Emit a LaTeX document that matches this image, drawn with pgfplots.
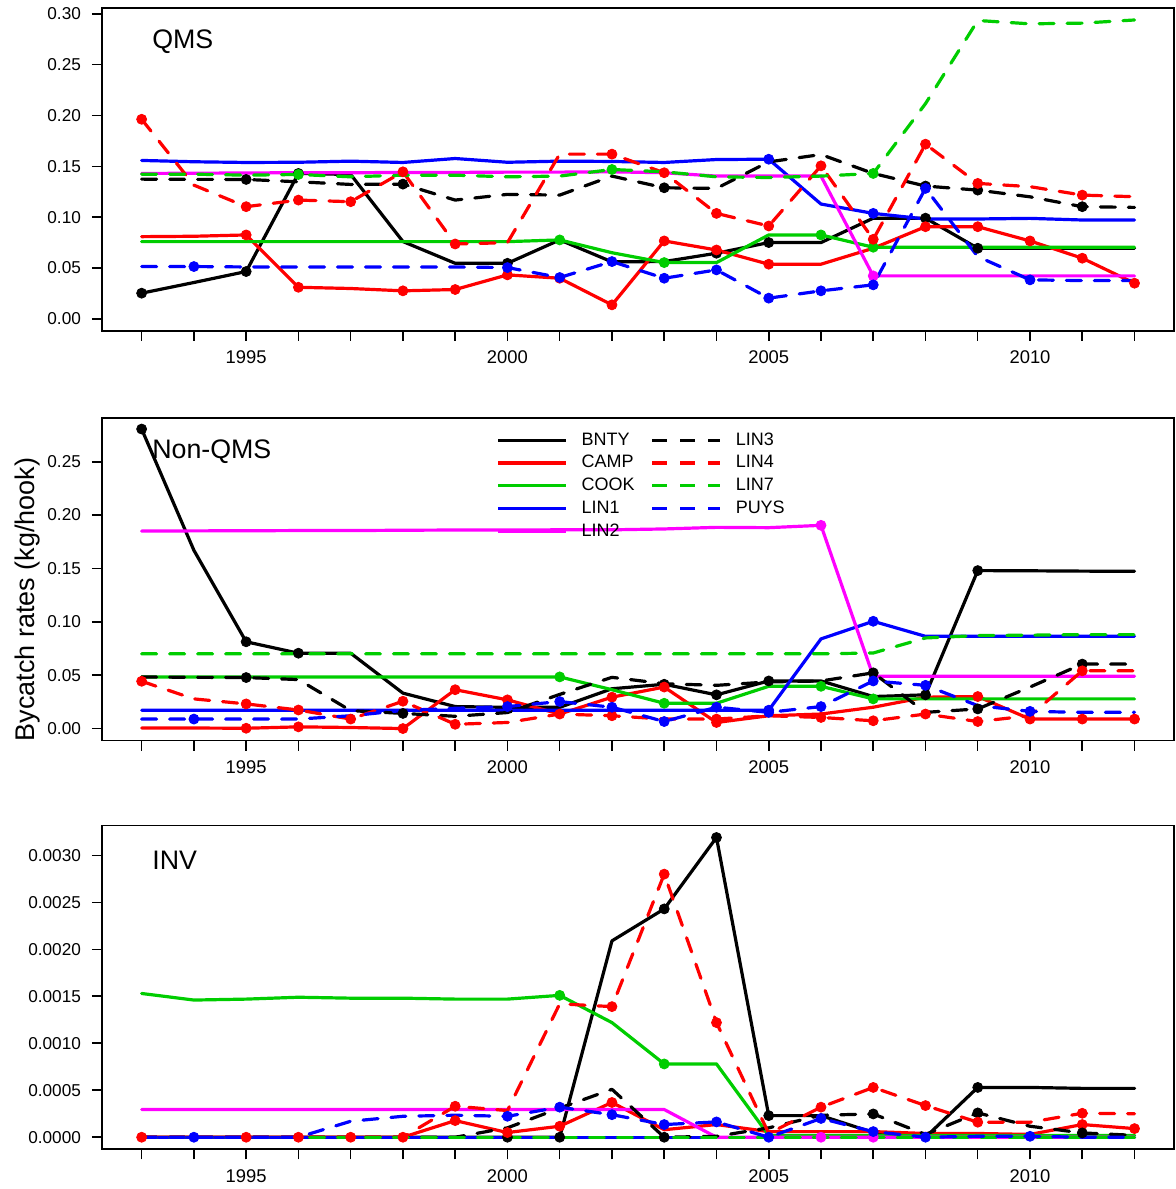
\documentclass[border=0pt]{standalone}
\usepackage{pgfplots}
\pgfplotsset{compat=1.18}
\usepackage{pgfplotstable}
\usepackage{fontspec}
\setmainfont{Liberation Sans}

\definecolor{cred}{RGB}{255,0,0}
\definecolor{cgreen}{RGB}{0,205,0}
\definecolor{cblue}{RGB}{0,0,255}
\definecolor{cmag}{RGB}{255,0,255}

% bycatch rates by stock, one table per panel
\pgfplotstableread{
year BNTY CAMP COOK LIN1 LIN2 LIN3 LIN4 LIN7 PUYS
1993 .0252 .0808 .0759 .1558 .1430 .1374 .1963 .1423 .0514
1994 .0357 .0812 .0759 .1545 .1432 .1372 .1315 .1423 .0514
1995 .0465 .0825 .0759 .1538 .1435 .1371 .1103 .1413 .0510
1996 .1430 .0310 .0759 .1540 .1437 .1348 .1168 .1420 .0510
1997 .1420 .0298 .0759 .1551 .1437 .1322 .1152 .1397 .0510
1998 .0760 .0275 .0759 .1538 .1440 .1325 .1446 .1413 .0510
1999 .0546 .0288 .0759 .1577 .1440 .1168 .0736 .1413 .0510
2000 .0546 .0432 .0759 .1540 .1443 .1224 .0749 .1397 .0504
2001 .0776 .0399 .0776 .1551 .1443 .1217 .1620 .1404 .0406
2002 .0560 .0137 .0650 .1548 .1446 .1404 .1620 .1469 .0563
2003 .0563 .0766 .0553 .1538 .1437 .1289 .1437 .1446 .0399
2004 .0645 .0677 .0553 .1567 .1404 .1283 .1037 .1397 .0481
2005 .0750 .0537 .0825 .1570 .1404 .1544 .0913 .1390 .0203
2006 .0750 .0537 .0825 .1129 .1404 .1616 .1505 .1404 .0275
2007 .0990 .0694 .0704 .1037 .0422 .1430 .0782 .1430 .0334
2008 .0990 .0906 .0704 .0982 .0422 .1306 .1718 .2117 .1283
2009 .0694 .0906 .0704 .0982 .0422 .1266 .1332 .2935 .0612
2010 .0694 .0766 .0704 .0988 .0422 .1200 .1300 .2902 .0383
2011 .0694 .0596 .0704 .0972 .0422 .1103 .1217 .2909 .0376
2012 .0694 .0350 .0704 .0972 .0422 .1096 .1201 .2940 .0376
}\qms

\pgfplotstableread{
year BNTY CAMP COOK LIN1 LIN2 LIN3 LIN4 LIN7 PUYS
1993 .2806 .0005 .0484 .0172 .1850 .0484 .0443 .0700 .0089
1994 .1670 .0005 .0484 .0172 .1852 .0480 .0278 .0700 .0089
1995 .0813 .0003 .0484 .0172 .1853 .0478 .0231 .0700 .0089
1996 .0706 .0016 .0484 .0172 .1855 .0459 .0174 .0700 .0089
1997 .0706 .0010 .0484 .0172 .1855 .0168 .0089 .0700 .0120
1998 .0332 .0000 .0484 .0172 .1858 .0142 .0256 .0700 .0170
1999 .0206 .0364 .0484 .0172 .1860 .0115 .0040 .0700 .0190
2000 .0199 .0269 .0484 .0172 .1860 .0150 .0057 .0700 .0206
2001 .0199 .0136 .0484 .0172 .1862 .0320 .0136 .0700 .0253
2002 .0373 .0294 .0364 .0172 .1862 .0480 .0120 .0700 .0200
2003 .0415 .0389 .0237 .0172 .1870 .0420 .0089 .0700 .0066
2004 .0316 .0057 .0237 .0172 .1885 .0405 .0089 .0700 .0200
2005 .0446 .0120 .0396 .0172 .1882 .0437 .0120 .0700 .0152
2006 .0446 .0136 .0396 .0840 .1904 .0446 .0104 .0700 .0206
2007 .0300 .0200 .0278 .1005 .0490 .0522 .0073 .0708 .0446
2008 .0316 .0294 .0278 .0864 .0490 .0152 .0136 .0849 .0405
2009 .1480 .0300 .0278 .0864 .0490 .0184 .0066 .0871 .0215
2010 .1478 .0089 .0278 .0864 .0490 .0389 .0120 .0875 .0161
2011 .1475 .0089 .0278 .0864 .0490 .0604 .0541 .0880 .0152
2012 .1473 .0089 .0278 .0864 .0490 .0604 .0541 .0880 .0152
}\nonqms

\pgfplotstableread{
year BNTY CAMP COOK LIN1 LIN2 LIN3 LIN4 LIN7 PUYS
1993 0 0 .00153 0 .000295 0 0 0 0
1994 0 0 .00146 0 .000295 0 0 0 0
1995 0 0 .00147 0 .000295 0 0 0 0
1996 0 0 .00149 0 .000295 0 0 0 0
1997 0 0 .00148 0 .000295 0 0 0 .00017
1998 0 0 .00148 0 .000295 0 0 0 .000223
1999 0 .000177 .00147 0 .000295 0 .00033 0 .000234
2000 0 .00005 .00147 0 .000295 .0001 .000284 0 .000223
2001 0 .000117 .00151 0 .000295 .00031 .00142 0 .00032
2002 .00209 .00037 .00122 0 .000295 .00051 .00139 0 .00024
2003 .00243 .00008 .00078 0 .000295 0 .0028 0 .000135
2004 .00319 .000135 .00078 0 0 .00001 .00122 0 .000163
2005 .00023 .00006 .00002 0 0 .0001 .00004 0 0
2006 .00023 .00006 .00002 0 0 .000234 .00032 0 .0002
2007 .00005 .00006 .00002 0 0 .000248 .00053 0 .00006
2008 0 .00004 .00002 0 0 .00003 .000337 0 0
2009 .00053 .00004 .00002 0 0 .000259 .00016 0 .00001
2010 .00053 .00003 .00002 0 0 .000117 .00016 0 .00001
2011 .00052 .000135 .00002 0 0 .000046 .000255 0 0
2012 .00052 .000092 .00002 0 0 .00002 .00025 0 0
}\inv

\tikzset{
  dsh/.style={dash pattern=on 7.5pt off 6.5pt},
  bnty/.style={black}, camp/.style={cred}, cook/.style={cgreen},
  lin1/.style={cblue}, lin2/.style={cmag},
  lin3/.style={black, dsh}, lin4/.style={cred, dsh},
  lin7/.style={cgreen, dsh}, puys/.style={cblue, dsh},
  lab/.style={anchor=west, inner sep=0pt, font=\fontsize{13.4}{16}\selectfont},
}
\pgfplotsset{
  panel/.style={
    scale only axis, width=536.5pt,
    xmin=1992.24, xmax=2012.76,
    xtick={1995,2000,2005,2010}, xticklabels={1995,2000,2005,2010},
    minor xtick={1993,...,2012},
    tick pos=left, tick align=outside,
    major tick length=5pt, minor tick length=5pt,
    every tick/.style={black, line width=0.8pt},
    every minor tick/.style={black, line width=0.8pt},
    axis line style={line width=0.9pt},
    xticklabel style={font=\fontsize{9.2}{11}\selectfont, yshift=-1.5pt},
    yticklabel style={font=\fontsize{8.6}{10}\selectfont, xshift=-2pt},
    scaled y ticks=false,
    clip=false,
  },
  prec/.style={yticklabel style={/pgf/number format/.cd, fixed, fixed zerofill, precision=#1, assume math mode=true}},
  s/.style={line width=1.6pt, no marks, line cap=round, line join=round, forget plot},
}
\newcommand\mk[2]{\addplot[#1, only marks, mark=*, solid, mark size=2.5pt, forget plot] coordinates {#2};}
\newcommand\lines[1]{%
  \addplot[s,bnty] table[x=year,y=BNTY]{#1};
  \addplot[s,camp] table[x=year,y=CAMP]{#1};
  \addplot[s,cook] table[x=year,y=COOK]{#1};
  \addplot[s,lin1] table[x=year,y=LIN1]{#1};
  \addplot[s,lin2] table[x=year,y=LIN2]{#1};
  \addplot[s,lin3] table[x=year,y=LIN3]{#1};
  \addplot[s,lin4] table[x=year,y=LIN4]{#1};
  \addplot[s,lin7] table[x=year,y=LIN7]{#1};
  \addplot[s,puys] table[x=year,y=PUYS]{#1};
}

\begin{document}
\begin{tikzpicture}
\path (0,0) rectangle (588pt,594.5pt);

% QMS
\begin{axis}[panel, prec=2, at={(51pt,429pt)}, anchor=south west, height=161.5pt,
  ymin=-0.0118, ymax=0.3058, ytick={0,0.05,0.10,0.15,0.20,0.25,0.30}]
\lines{\qms}
\mk{bnty}{(1993,.0252)(1995,.0465)(1996,.1430)(2000,.0546)(2004,.0645)(2005,.0750)(2008,.0990)(2009,.0694)}
\mk{camp}{(1995,.0825)(1996,.0310)(1998,.0275)(1999,.0288)(2000,.0432)(2001,.0399)(2002,.0137)(2003,.0766)(2004,.0677)(2005,.0537)(2008,.0906)(2009,.0906)(2010,.0766)(2011,.0596)(2012,.0350)}
\mk{cook}{(2001,.0776)(2003,.0553)(2006,.0825)(2007,.0704)}
\mk{lin1}{(2005,.1570)(2007,.1037)}
\mk{lin2}{(2007,.0422)}
\mk{lin3}{(1995,.1371)(1998,.1325)(2003,.1289)(2008,.1306)(2009,.1266)(2011,.1103)}
\mk{lin4}{(1993,.1963)(1995,.1103)(1996,.1168)(1997,.1152)(1998,.1446)(1999,.0736)(2002,.1620)(2003,.1437)(2004,.1037)(2005,.0913)(2006,.1505)(2007,.0782)(2008,.1718)(2009,.1332)(2011,.1217)}
\mk{lin7}{(1996,.1420)(2002,.1469)(2007,.1430)}
\mk{puys}{(1994,.0514)(2000,.0504)(2001,.0406)(2002,.0563)(2003,.0399)(2004,.0481)(2005,.0203)(2006,.0275)(2007,.0334)(2008,.1283)(2010,.0383)}
\node[lab] at (rel axis cs:0.0466,0.895) {QMS};
\end{axis}

% Non-QMS
\begin{axis}[panel, prec=2, at={(51pt,224pt)}, anchor=south west, height=161.5pt,
  ymin=-0.0112, ymax=0.2912, ytick={0,0.05,0.10,0.15,0.20,0.25},
  legend columns=2, legend cell align=left,
  legend image code/.code={\draw[#1] (0pt,0pt) -- (34pt,0pt);},
  legend style={draw=none, fill=none, at={(rel axis cs:0.362,0.972)}, anchor=north west,
    font=\fontsize{9}{10}\selectfont, row sep=2.4pt,
    nodes={inner ysep=0.5pt, text height=6.5pt, text depth=1.5pt},
    /tikz/every odd column/.append style={column sep=5pt},
    /tikz/every even column/.append style={column sep=6pt}}]
\addlegendimage{bnty,line width=1.6pt}\addlegendentry{BNTY}
\addlegendimage{lin3,line width=1.6pt}\addlegendentry{LIN3}
\addlegendimage{camp,line width=1.6pt}\addlegendentry{CAMP}
\addlegendimage{lin4,line width=1.6pt}\addlegendentry{LIN4}
\addlegendimage{cook,line width=1.6pt}\addlegendentry{COOK}
\addlegendimage{lin7,line width=1.6pt}\addlegendentry{LIN7}
\addlegendimage{lin1,line width=1.6pt}\addlegendentry{LIN1}
\addlegendimage{puys,line width=1.6pt}\addlegendentry{PUYS}
\addlegendimage{lin2,line width=1.6pt}\addlegendentry{LIN2}
\lines{\nonqms}
\mk{bnty}{(1993,.2806)(1995,.0813)(1996,.0706)(2003,.0415)(2004,.0316)(2005,.0446)(2008,.0316)(2009,.1480)}
\mk{camp}{(1995,.0003)(1996,.0016)(1998,.0000)(1999,.0364)(2000,.0269)(2002,.0294)(2003,.0389)(2004,.0057)(2009,.0300)(2010,.0089)(2011,.0089)(2012,.0089)}
\mk{cook}{(2001,.0484)(2003,.0237)(2006,.0396)(2007,.0278)}
\mk{lin1}{(2005,.0172)(2007,.1005)}
\mk{lin2}{(2006,.1904)}
\mk{lin3}{(1995,.0478)(1998,.0142)(2007,.0522)(2009,.0184)(2011,.0604)}
\mk{lin4}{(1993,.0443)(1995,.0231)(1996,.0174)(1997,.0089)(1998,.0256)(1999,.0040)(2001,.0136)(2002,.0120)(2004,.0089)(2006,.0104)(2007,.0073)(2008,.0136)(2009,.0066)(2011,.0541)}
\mk{puys}{(1994,.0089)(2000,.0206)(2001,.0253)(2002,.0200)(2003,.0066)(2004,.0200)(2005,.0152)(2006,.0206)(2007,.0446)(2008,.0405)(2010,.0161)}
\node[lab] at (rel axis cs:0.0466,0.895) {Non-QMS};
\node[rotate=90, font=\fontsize{13.5}{16}\selectfont] at (rel axis cs:-0.069,0.4365) {Bycatch rates (kg/hook)};
\end{axis}

% INV
\begin{axis}[panel, prec=4, at={(51pt,19.5pt)}, anchor=south west, height=162pt,
  ymin=-0.000128, ymax=0.003318, ytick={0,0.0005,0.0010,0.0015,0.0020,0.0025,0.0030}]
\lines{\inv}
\mk{bnty}{(2000,0)(2001,0)(2003,.00243)(2004,.00319)(2005,.00023)(2009,.00053)}
\mk{camp}{(1999,.000177)(2000,.00005)(2001,.000117)(2002,.00037)(2011,.000135)(2012,.000092)}
\mk{cook}{(2001,.00151)(2003,.00078)}
\mk{lin2}{(2006,0)(2007,0)}
\mk{lin3}{(2003,0)(2007,.000248)(2009,.000259)(2011,.000046)}
\mk{lin4}{(1993,0)(1995,0)(1996,0)(1997,0)(1998,0)(1999,.00033)(2002,.00139)(2003,.0028)(2004,.00122)(2006,.00032)(2007,.00053)(2008,.000337)(2009,.00016)(2011,.000255)}
\mk{puys}{(1994,0)(2000,.000223)(2001,.00032)(2002,.00024)(2003,.000135)(2004,.000163)(2005,0)(2006,.0002)(2007,.00006)(2008,0)(2010,.00001)}
\node[lab] at (rel axis cs:0.0466,0.892) {INV};
\end{axis}
\end{tikzpicture}
\end{document}
